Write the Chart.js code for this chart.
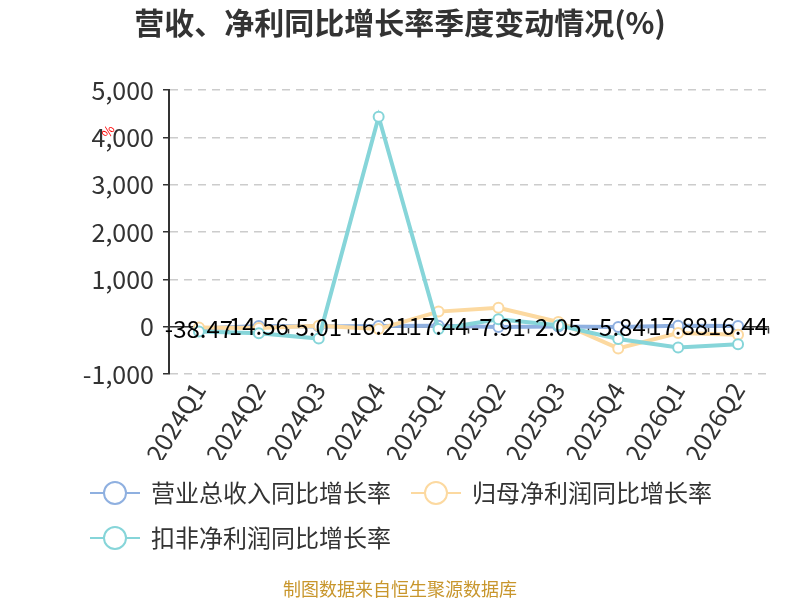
<!DOCTYPE html>
<html>
<head>
<meta charset="utf-8">
<script src="https://cdn.jsdelivr.net/npm/chart.js@4"></script>
<style>
  html, body { margin: 0; padding: 0; background: #fff; }
  #wrap { width: 800px; height: 600px; }
</style>
</head>
<body>
<div id="wrap"><canvas id="chart" width="800" height="600"></canvas></div>
<script>
// datos
const quarters = ['2024Q1', '2024Q2', '2024Q3', '2024Q4', '2025Q1', '2025Q2', '2025Q3', '2025Q4', '2026Q1', '2026Q2'];
const revenueGrowth = [-38.47, 14.56, 5.01, 16.21, 17.44, -7.91, 2.05, -5.84, 17.88, 16.44];
const netProfitGrowth = [-20, -30, 20, -50, 318, 400, 100, -460, -135, -170];
const deductedProfitGrowth = [-100, -140, -250, 4435, -50, 155, 30, -260, -440, -370];
const seriesNames = ['营业总收入同比增长率', '归母净利润同比增长率', '扣非净利润同比增长率'];
const seriesColors = ['#8fb0e0', '#fcd9a0', '#86d5d9'];
const yTicks = [-1000, 0, 1000, 2000, 3000, 4000, 5000];

const FONT = '"Noto Sans CJK SC", "Noto Sans", sans-serif';

// icono de leyenda: linea con circulo
function legendIcon(color) {
    const c = document.createElement('canvas');
    c.width = 50; c.height = 26;
    const g = c.getContext('2d');
    g.strokeStyle = color;
    g.lineWidth = 2;
    g.beginPath(); g.moveTo(0, 13); g.lineTo(50, 13); g.stroke();
    g.fillStyle = '#fff';
    g.beginPath(); g.arc(25, 13, 11, 0, Math.PI * 2); g.fill(); g.stroke();
    return c;
}

// etiquetas de la serie de ingresos
const valueLabels = {
    id: 'valueLabels',
    afterDatasetsDraw(chart) {
        const ctx = chart.ctx;
        const meta = chart.getDatasetMeta(0);
        ctx.save();
        ctx.font = '24px ' + FONT;
        ctx.fillStyle = '#000';
        ctx.textAlign = 'center';
        ctx.textBaseline = 'middle';
        meta.data.forEach((pt, i) => {
            ctx.fillText(revenueGrowth[i].toFixed(2), pt.x, pt.y);
        });
        ctx.restore();
    }
};

// titulo, fuente y marca roja
const extras = {
    id: 'extras',
    afterDraw(chart) {
        const ctx = chart.ctx;
        ctx.save();
        ctx.textAlign = 'center';
        ctx.textBaseline = 'middle';
        ctx.font = 'bold 30px ' + FONT;
        ctx.fillStyle = '#333';
        ctx.fillText('营收、净利同比增长率季度变动情况(%)', 400, 23);
        ctx.font = '18px ' + FONT;
        ctx.fillStyle = '#c8962c';
        ctx.fillText('制图数据来自恒生聚源数据库', 400, 589);
        const y = chart.scales.y;
        ctx.translate(108, y.getPixelForValue(4000) - 6);
        ctx.rotate(-Math.PI / 3);
        ctx.font = '13px ' + FONT;
        ctx.fillStyle = '#ff0000';
        ctx.fillText('%', 0, 0);
        ctx.restore();
    }
};

function lineSet(label, data, color, order) {
    return {
        label: label,
        data: data,
        order: order,
        borderColor: color,
        backgroundColor: '#fff',
        borderWidth: 4,
        pointRadius: 5,
        pointBorderWidth: 2,
        pointBackgroundColor: '#fff',
        pointBorderColor: color,
        tension: 0
    };
}

const ctx = document.getElementById('chart').getContext('2d');
new Chart(ctx, {
    type: 'line',
    data: {
        labels: quarters,
        datasets: [
            lineSet(seriesNames[0], revenueGrowth, seriesColors[0], 3),
            lineSet(seriesNames[1], netProfitGrowth, seriesColors[1], 2),
            lineSet(seriesNames[2], deductedProfitGrowth, seriesColors[2], 1)
        ]
    },
    options: {
        responsive: false,
        animation: false,
        devicePixelRatio: 1,
        layout: { padding: { left: 70, right: 32, top: 90, bottom: 40 } },
        plugins: {
            tooltip: { enabled: false },
            title: { display: false },
            legend: {
                position: 'bottom',
                align: 'start',
                labels: {
                    color: '#333',
                    font: { family: FONT, size: 24 },
                    usePointStyle: true,
                    pointStyleWidth: 48,
                    padding: 21,
                    sort: (a, b) => a.datasetIndex - b.datasetIndex,
                    generateLabels(chart) {
                        const items = Chart.defaults.plugins.legend.labels.generateLabels(chart);
                        items.forEach(it => { it.pointStyle = legendIcon(seriesColors[it.datasetIndex]); });
                        return items;
                    }
                }
            }
        },
        scales: {
            x: {
                type: 'category',
                offset: true,
                grid: { display: false },
                border: { display: false },
                ticks: {
                    color: '#333',
                    font: { family: FONT, size: 25 },
                    minRotation: 58,
                    maxRotation: 58,
                    padding: -5,
                    autoSkip: false
                },
                afterFit(scale) { scale.height = 86; }
            },
            x2: {
                type: 'category',
                labels: quarters,
                position: { y: 0 },
                offset: true,
                grid: {
                    offset: true,
                    drawOnChartArea: false,
                    drawTicks: true,
                    tickLength: 6,
                    tickColor: '#333',
                    tickWidth: 1.5
                },
                border: { display: true, color: '#333', width: 1.5 },
                ticks: { display: false }
            },
            y: {
                min: -1000,
                max: 5000,
                afterBuildTicks(scale) { scale.ticks = yTicks.map(v => ({ value: v })); },
                grid: {
                    color: '#cccccc',
                    lineWidth: 1.5,
                    tickLength: 6,
                    tickColor: '#333',
                    tickWidth: 1.5,
                    tickBorderDash: []
                },
                border: { display: true, color: '#333', width: 2, dash: [8, 6] },
                ticks: {
                    color: '#333',
                    font: { family: FONT, size: 25 },
                    padding: 9
                },
                afterFit(scale) { scale.width = 99; }
            }
        }
    },
    plugins: [valueLabels, extras]
});
</script>
</body>
</html>
